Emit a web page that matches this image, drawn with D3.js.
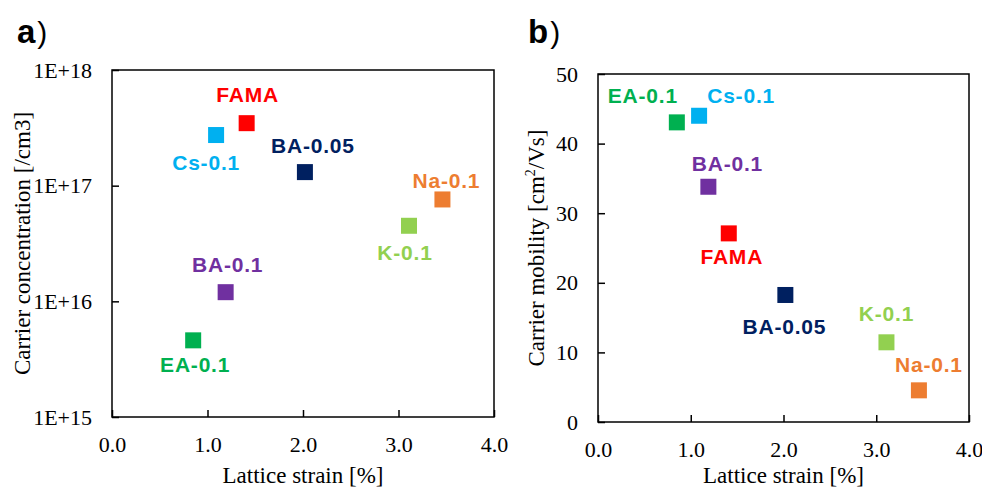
<!DOCTYPE html>
<html lang="en">
<head>
  <meta charset="UTF-8">
  <title>Lattice strain vs carrier properties</title>
  <style>
    body { margin: 0; background: #fff; }
    svg { display: block; }
    .tick text { font-family: "Liberation Serif", "Times New Roman", serif; font-size: 22px; fill: #000; }
    .title { font-family: "Liberation Serif", "Times New Roman", serif; font-size: 23px; fill: #000; }
    .lbl { font-family: "Liberation Sans", Arial, sans-serif; font-size: 21px; font-weight: bold; letter-spacing: 0.8px; }
    .panel { font-family: "Liberation Sans", Arial, sans-serif; font-size: 33px; font-weight: bold; }
  </style>
</head>
<body>
  <svg width="982" height="492"></svg>

  <script src="https://d3js.org/d3.v7.min.js"></script>
  <script>
    // samples and their colours
    const samples = ["FAMA", "Cs-0.1", "BA-0.05", "Na-0.1", "K-0.1", "BA-0.1", "EA-0.1"];
    const colors  = ["#ff0000", "#00b0f0", "#002060", "#ed7d31", "#92d050", "#7030a0", "#00b050"];

    // lattice strain [%]
    const strain = [1.41, 1.09, 2.02, 3.46, 3.11, 1.19, 0.85];
    // carrier concentration [/cm3]
    const concentration = [3.47e17, 2.74e17, 1.31e17, 7.6e16, 4.5e16, 1.2e16, 4.6e15];
    // carrier mobility [cm2/Vs]
    const mobility = [27.1, 44.0, 18.25, 4.55, 11.45, 33.8, 43.05];

    const xTicks = [0, 1, 2, 3, 4];
    const concTicks = [1e15, 1e16, 1e17, 1e18];
    const mobTicks = [0, 10, 20, 30, 40, 50];

    // label offsets from marker centre (dx, dy to baseline), per panel
    const offA = [[1, -21], [-10, 35], [8, -19], [4, -11], [-4, 34], [2, -20], [2, 32]];
    const offB = [[3, 31], [42, -13], [-1, 39], [10, -18], [0, -21], [19, -16], [-34, -19]];

    const svg = d3.select("svg");
    const size = 16;

    function panel(o) {
      const g = svg.append("g");
      const x = d3.scaleLinear().domain([0, 4]).range([o.left, o.right]);
      const y = o.yScale;

      g.append("rect")
        .attr("x", o.left).attr("y", o.top)
        .attr("width", o.right - o.left).attr("height", o.bottom - o.top)
        .attr("fill", "none").attr("stroke", "#000").attr("stroke-width", 1.5);

      const xa = g.append("g")
        .attr("transform", `translate(0,${o.bottom})`)
        .call(d3.axisBottom(x).tickValues(xTicks).tickFormat(d3.format(".1f")).tickSizeInner(-7).tickSizeOuter(0).tickPadding(19));
      xa.select(".domain").remove();
      xa.selectAll(".tick line").attr("stroke", "#000").attr("stroke-width", 1.5);

      const ya = g.append("g")
        .attr("transform", `translate(${o.left},0)`)
        .call(d3.axisLeft(y).tickValues(o.yTicks).tickFormat(o.yFormat).tickSizeInner(-7).tickSizeOuter(0).tickPadding(20));
      ya.select(".domain").remove();
      ya.selectAll(".tick line").attr("stroke", "#000").attr("stroke-width", 1.5);

      g.append("text").attr("class", "title")
        .attr("x", (o.left + o.right) / 2).attr("y", 483)
        .attr("text-anchor", "middle").text("Lattice strain [%]");

      const yt = g.append("text").attr("class", "title")
        .attr("transform", `translate(${o.titleX},${(o.top + o.bottom) / 2}) rotate(-90)`)
        .attr("text-anchor", "middle");
      o.yTitle(yt);

      g.selectAll("rect.pt")
        .data(samples)
        .join("rect")
        .attr("class", "pt")
        .attr("x", (d, i) => x(strain[i]) - size / 2)
        .attr("y", (d, i) => y(o.values[i]) - size / 2)
        .attr("width", size).attr("height", size)
        .attr("fill", (d, i) => colors[i]);

      g.selectAll("text.lbl")
        .data(samples)
        .join("text")
        .attr("class", "lbl")
        .attr("x", (d, i) => x(strain[i]) + o.offsets[i][0])
        .attr("y", (d, i) => y(o.values[i]) + o.offsets[i][1])
        .attr("text-anchor", "middle")
        .attr("fill", (d, i) => colors[i])
        .text(d => d);

      const p = svg.append("text").attr("class", "panel")
        .attr("x", o.letterX).attr("y", 43);
      p.append("tspan").text(o.letter);
      p.append("tspan").attr("font-weight", "normal").attr("font-size", 30).attr("dx", 2).text(")");
    }

    panel({
      left: 112, right: 494, top: 70, bottom: 417,
      yScale: d3.scaleLog().domain([1e15, 1e18]).range([417, 70]),
      yTicks: concTicks,
      yFormat: d => "1E+" + Math.round(Math.log10(d)),
      titleX: 30,
      yTitle: t => t.text("Carrier concentration [/cm3]"),
      values: concentration,
      offsets: offA,
      letter: "a", letterX: 17
    });

    panel({
      left: 598, right: 969, top: 74, bottom: 422,
      yScale: d3.scaleLinear().domain([0, 50]).range([422, 74]),
      yTicks: mobTicks,
      yFormat: d3.format("d"),
      titleX: 544,
      yTitle: t => {
        t.append("tspan").text("Carrier mobility [cm");
        t.append("tspan").attr("font-size", 14).attr("dy", -9).text("2");
        t.append("tspan").attr("dy", 9).text("/Vs]");
      },
      values: mobility,
      offsets: offB,
      letter: "b", letterX: 528
    });
  </script>
</body>
</html>
